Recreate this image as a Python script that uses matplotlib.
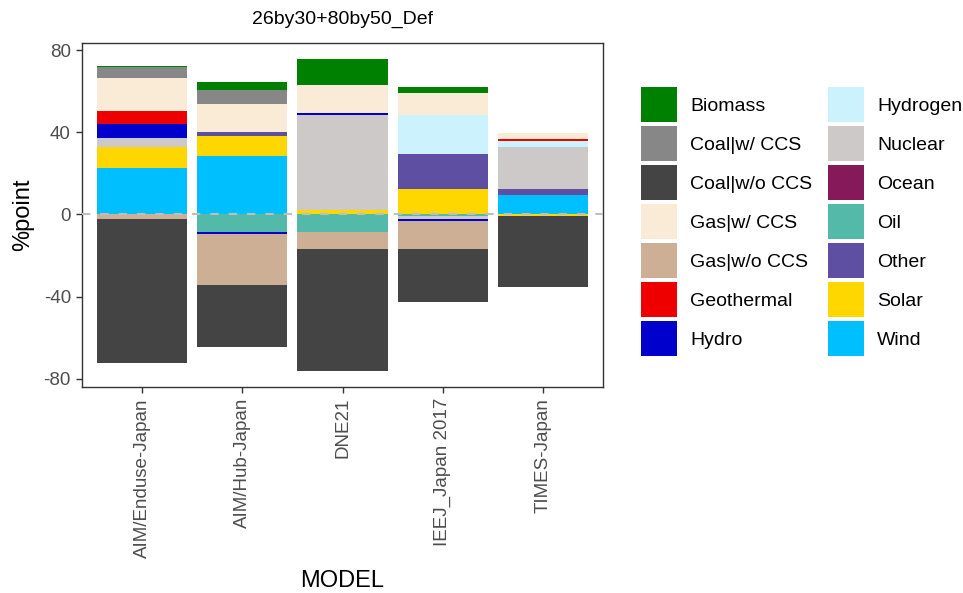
import matplotlib
matplotlib.use("Agg")
import matplotlib.pyplot as plt
from matplotlib.patches import Patch
import numpy as np

plt.rcParams['font.family'] = ['Liberation Sans', 'DejaVu Sans']
plt.rcParams['axes.unicode_minus'] = False

title = "26by30+80by50_Def"
models = ["AIM/Enduse-Japan", "AIM/Hub-Japan", "DNE21", "IEEJ_Japan 2017", "TIMES-Japan"]

categories = ["Biomass", "Coal|w/ CCS", "Coal|w/o CCS", "Gas|w/ CCS", "Gas|w/o CCS",
              "Geothermal", "Hydro", "Hydrogen", "Nuclear", "Ocean", "Oil", "Other",
              "Solar", "Wind"]
colors = ["#008000", "#878787", "#444444", "#FAEBD7", "#CDAF95",
          "#EE0000", "#0000CD", "#CCF3FD", "#CDC9C9", "#85195A", "#53BAA9", "#5E4FA2",
          "#FFD700", "#00BFFF"]

# change in generation share (%point), one value per model
biomass     = [0.5, 3.8, 13.0, 2.9, 0.0]
coal_ccs    = [5.3, 6.9, 0.0, 0.0, 0.0]
coal_noccs  = [-70.4, -30.5, -59.8, -26.2, -35.0]
gas_ccs     = [16.1, 13.5, 13.4, 10.5, 2.6]
gas_noccs   = [-2.1, -24.6, -8.4, -13.3, 0.0]
geothermal  = [6.3, 0.0, 0.0, -0.3, 1.0]
hydro       = [7.0, -1.0, 1.2, -1.0, 0.0]
hydrogen    = [0.0, 0.0, 0.0, 19.0, 2.9]
nuclear     = [4.2, 0.0, 46.0, -1.5, 20.7]
ocean       = [0.0, 0.0, 0.0, 0.0, 0.0]
oil         = [0.0, -8.6, -8.3, -0.5, 0.0]
other       = [0.0, 1.8, 0.0, 17.1, 2.8]
solar       = [10.1, 9.8, 2.4, 12.5, -0.6]
wind        = [22.8, 28.7, 0.0, 0.0, 9.5]

values = [biomass, coal_ccs, coal_noccs, gas_ccs, gas_noccs, geothermal, hydro,
          hydrogen, nuclear, ocean, oil, other, solar, wind]

fig = plt.figure(figsize=(9.63, 5.93), dpi=100)
ax = fig.add_axes([0.0852, 0.3474, 0.5410, 0.5801])

x = np.arange(len(models))
pos_base = np.zeros(len(models))
neg_base = np.zeros(len(models))
# last level sits next to zero, first level furthest out
for name, col, vals in reversed(list(zip(categories, colors, values))):
    v = np.array(vals, dtype=float)
    pos = np.where(v > 0, v, 0)
    neg = np.where(v < 0, v, 0)
    ax.bar(x, pos, bottom=pos_base, width=0.9, color=col, linewidth=0)
    ax.bar(x, neg, bottom=neg_base, width=0.9, color=col, linewidth=0)
    pos_base += pos
    neg_base += neg

ax.axhline(0, color="#BEBEBE", lw=1.5, dashes=(4, 4.8), zorder=5)

span = pos_base.max() - neg_base.min()
ax.set_ylim(neg_base.min() - 0.05 * span, pos_base.max() + 0.05 * span)
ax.set_xlim(-0.6, len(models) - 0.4)
ax.set_yticks([-80, -40, 0, 40, 80])
ax.set_xticks(x)
ax.set_xticklabels(models, rotation=90)

ax.tick_params(axis="both", colors="#333333", length=4, width=1, labelsize=13.5,
               labelcolor="#4D4D4D", pad=4)
for sp in ax.spines.values():
    sp.set_color("#333333")
    sp.set_linewidth(1.0)

ax.set_xlabel("MODEL", fontsize=17, labelpad=9)
ax.set_ylabel("%point", fontsize=17, labelpad=7)
ax.set_title(title, fontsize=14, pad=14)

handles = [Patch(facecolor=c, edgecolor="none") for c in colors]
fig.legend(handles, categories, loc="upper left", bbox_to_anchor=(0.6653, 0.8528),
           ncol=2, frameon=False, fontsize=14, handlelength=1.85, handleheight=2.4,
           labelspacing=0.2, handletextpad=0.7, columnspacing=0.78, borderpad=0,
           borderaxespad=0)

fig.savefig("out.png", dpi=100)
